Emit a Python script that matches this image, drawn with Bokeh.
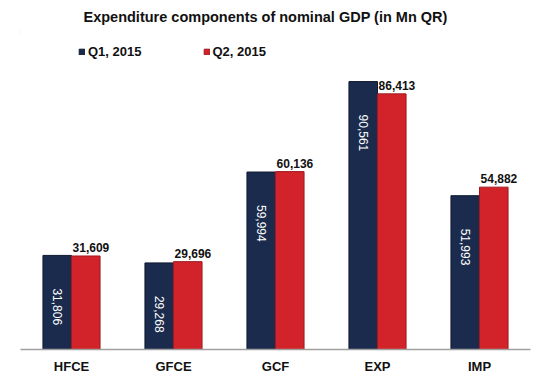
from bokeh.plotting import figure
from bokeh.models import ColumnDataSource, FactorRange, Range1d, Legend, LegendItem, BoxAnnotation
from bokeh.transform import dodge
from bokeh.core.properties import value
from bokeh.embed import file_html
from bokeh.resources import INLINE
import math

categories = ["HFCE", "GFCE", "GCF", "EXP", "IMP"]
q1_values = [31806, 29268, 59994, 90561, 51993]
q2_values = [31609, 29696, 60136, 86413, 54882]
series_names = ["Q1, 2015", "Q2, 2015"]

q1_labels = [f"{v:,}" for v in q1_values]
q2_labels = [f"{v:,}" for v in q2_values]

src = ColumnDataSource(dict(cat=categories, q1=q1_values, q2=q2_values,
                            q1_lab=q1_labels, q2_lab=q2_labels))

FONT = "Liberation Sans"
NAVY = "#1b2b4d"
RED = "#d2232a"

p = figure(x_range=FactorRange(*categories, range_padding=0),
           y_range=Range1d(0, 108170),
           width=534, height=376, output_backend="svg", toolbar_location=None,
           min_border_left=20, min_border_right=4, min_border_top=29, min_border_bottom=0)

p.title.text = "Expenditure components of nominal GDP (in Mn QR)"
p.title.text_font = FONT
p.title.text_font_size = "14.5px"
p.title.text_font_style = "bold"
p.title.text_color = "#111111"
p.title.align = "left"
p.title.offset = 63

r1 = p.vbar(x=dodge("cat", -0.14, range=p.x_range), top="q1", width=0.28, source=src,
            fill_color=NAVY, line_color="#0f1a30", line_width=1)
r2 = p.vbar(x=dodge("cat", 0.14, range=p.x_range), top="q2", width=0.28, source=src,
            fill_color=RED, line_color="#9e1a1f", line_width=1)

p.text(x=dodge("cat", -0.14, range=p.x_range), y="q1", text="q1_lab", source=src,
       angle=-math.pi / 2, text_align="left", text_baseline="middle",
       y_offset=33, text_color="white", text_font=value(FONT), text_font_size="12px")
p.text(x=dodge("cat", 0.19, range=p.x_range), y="q2", text="q2_lab", source=src,
       text_align="center", text_baseline="bottom", y_offset=-4,
       text_color="#111111", text_font=value(FONT), text_font_size="12px",
       text_font_style="bold")

legend = Legend(items=[LegendItem(label=series_names[0], renderers=[r1]),
                       LegendItem(label=series_names[1], renderers=[r2])],
                orientation="horizontal", location="top_left",
                label_text_font=FONT, label_text_font_size="13px",
                label_text_font_style="bold", label_text_color="#111111",
                glyph_width=7, glyph_height=7, label_standoff=3, spacing=61,
                padding=0, margin=0, border_line_color=None,
                background_fill_alpha=0)
p.add_layout(legend, "center")
legend.location = (58, 290)

p.add_layout(BoxAnnotation(left=18, right=20, top=7, bottom=33,
                           left_units="canvas", right_units="canvas",
                           top_units="canvas", bottom_units="canvas",
                           fill_color="#f6cdb0", fill_alpha=1, line_color=None))

p.yaxis.visible = False
p.ygrid.visible = False
p.xgrid.visible = False
p.outline_line_color = None
p.xaxis.axis_line_color = "#a0a0a0"
p.xaxis.axis_line_width = 1.5
p.xaxis.major_tick_line_color = None
p.xaxis.minor_tick_line_color = None
p.xaxis.major_tick_out = 0
p.xaxis.major_tick_in = 0
p.xaxis.major_label_standoff = 9
p.xaxis.major_label_text_font = FONT
p.xaxis.major_label_text_font_size = "13px"
p.xaxis.major_label_text_font_style = "bold"
p.xaxis.major_label_text_color = "#111111"

open("out.html", "w").write(file_html(p, INLINE))
